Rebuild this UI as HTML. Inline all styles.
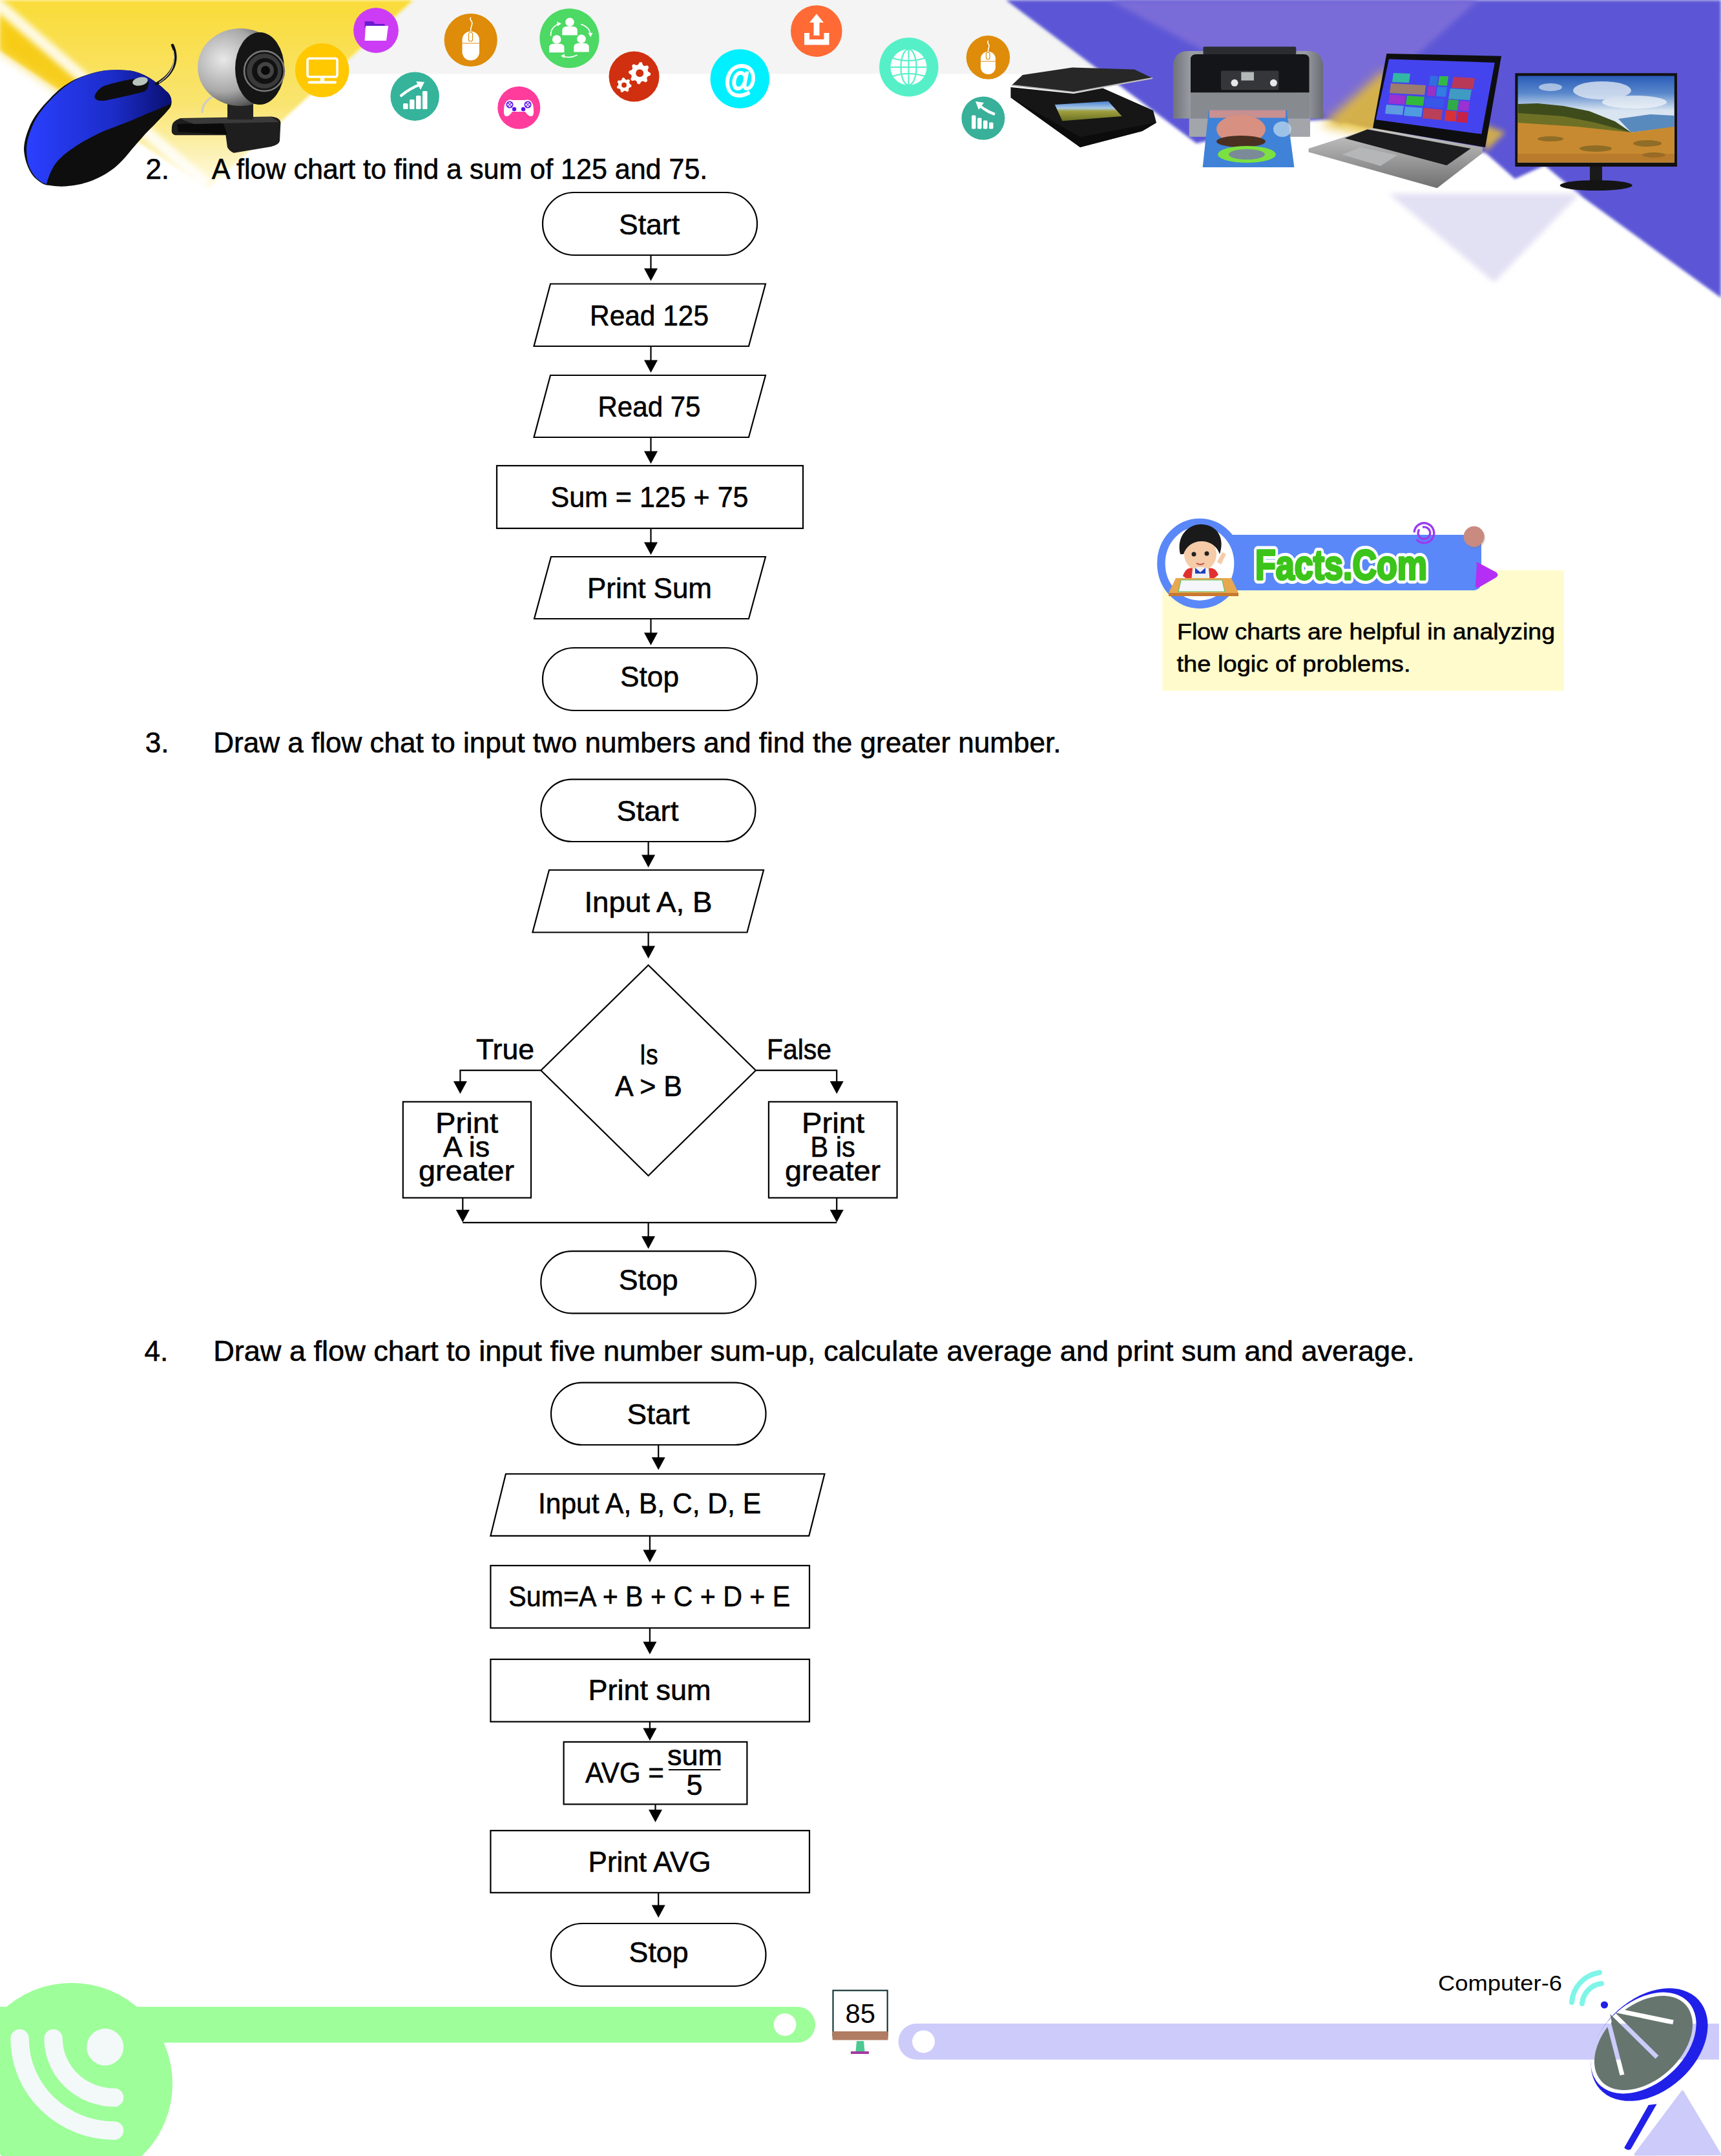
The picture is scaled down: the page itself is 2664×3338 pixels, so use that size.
<!DOCTYPE html>
<html><head><meta charset="utf-8"><title>Flow charts</title>
<style>
html,body{margin:0;padding:0;background:#fff;overflow:hidden;width:2664px;height:3338px;}
svg{display:block;}
text{font-family:"Liberation Sans",sans-serif;stroke:#000;stroke-width:0.6px;}
.s{fill:none;stroke:#000;stroke-width:2.2;}
.l{stroke:#000;stroke-width:2.2;}
</style></head>
<body>
<svg width="2664" height="3338" viewBox="0 0 2664 3338">
<defs>
<linearGradient id="yel" x1="0" y1="0" x2="0" y2="1">
 <stop offset="0" stop-color="#f9dc38"/><stop offset="0.55" stop-color="#f9e470"/><stop offset="1" stop-color="#fffbe6"/></linearGradient>
<linearGradient id="yel2" x1="0" y1="0" x2="1" y2="1">
 <stop offset="0" stop-color="#f6c200"/><stop offset="1" stop-color="#f8dc50" stop-opacity="0"/></linearGradient>
<filter id="bl4"><feGaussianBlur stdDeviation="4"/></filter>
<filter id="bl8"><feGaussianBlur stdDeviation="8"/></filter>
<filter id="bl2"><feGaussianBlur stdDeviation="2"/></filter>
<linearGradient id="lav" x1="0" y1="0" x2="0" y2="1">
 <stop offset="0" stop-color="#d8d4f4"/><stop offset="1" stop-color="#f4f3fb"/></linearGradient>
<linearGradient id="scr" x1="0" y1="0" x2="0" y2="1">
 <stop offset="0" stop-color="#3a68b0"/><stop offset="0.12" stop-color="#7a9ed0"/><stop offset="0.25" stop-color="#c4d4e8"/><stop offset="0.36" stop-color="#7a9a78"/><stop offset="0.46" stop-color="#45561f"/><stop offset="0.56" stop-color="#b08030"/><stop offset="0.75" stop-color="#c88834"/><stop offset="1" stop-color="#9a5e22"/></linearGradient>
<linearGradient id="silver" x1="0" y1="0" x2="0" y2="1">
 <stop offset="0" stop-color="#c8c8c8"/><stop offset="1" stop-color="#707070"/></linearGradient>
<linearGradient id="mouseb" x1="0" y1="0" x2="1" y2="0">
 <stop offset="0" stop-color="#2a40ff"/><stop offset="0.6" stop-color="#1c2cc8"/><stop offset="1" stop-color="#0a1070"/></linearGradient>
<radialGradient id="cam" cx="0.3" cy="0.4" r="0.7">
 <stop offset="0" stop-color="#e8e8e8"/><stop offset="0.6" stop-color="#a8a8a8"/><stop offset="1" stop-color="#404040"/></radialGradient>
<linearGradient id="prg" x1="0" y1="0" x2="1" y2="0">
 <stop offset="0" stop-color="#70747a"/><stop offset="0.12" stop-color="#9a9ea4"/><stop offset="0.5" stop-color="#8a8e94"/><stop offset="0.88" stop-color="#9a9ea4"/><stop offset="1" stop-color="#6a6e74"/></linearGradient>
<linearGradient id="scr2" x1="0" y1="0" x2="0" y2="1">
 <stop offset="0" stop-color="#4a80d0"/><stop offset="0.35" stop-color="#a8c8e8"/><stop offset="0.5" stop-color="#a0a040"/><stop offset="1" stop-color="#6a7020"/></linearGradient>
<linearGradient id="sky" x1="0" y1="0" x2="0" y2="1">
 <stop offset="0" stop-color="#2a5cb8"/><stop offset="0.2" stop-color="#5a88cc"/><stop offset="0.4" stop-color="#d8e4f0"/><stop offset="1" stop-color="#e8eef4"/></linearGradient>
</defs>
<polygon points="640,0 2664,0 2664,114.4 515,114.4" fill="#f3f4f3"/>
<polygon points="0,0 640,0 322,292 0,78" fill="url(#yel)" filter="url(#bl2)"/>
<polygon points="0,22 0,78 120,160 160,150" fill="#f6c400" opacity="0.7" filter="url(#bl8)"/>
<line x1="-5" y1="5" x2="320" y2="285" stroke="#fff" stroke-width="18" opacity="0.85" filter="url(#bl4)"/>
<polygon points="1557,0 2664,0 2664,461 2449.6,305 2391,256 2345,277 2300,237 2060,185 2000,188 1852,222" fill="#5c56d6" filter="url(#bl2)"/>
<polygon points="1717,0 2288,0 2075,192" fill="#7a6cd8" filter="url(#bl4)"/>
<polygon points="2045,195 2140,110 2215,150 2150,215" fill="#e8c030" opacity="0.85" filter="url(#bl8)"/><polygon points="2290,190 2330,205 2300,235" fill="#e8c030" opacity="0.8" filter="url(#bl4)"/>
<polygon points="2150,300 2445,300 2313,437" fill="#e2e0f3" filter="url(#bl4)"/>
<circle cx="498.6" cy="108.8" r="41.8" fill="#ffc800"/>
<rect x="476" y="90.5" width="46" height="28.5" rx="3" fill="none" stroke="#fff" stroke-width="3.6"/>
<rect x="496" y="119" width="6" height="8" fill="#fff"/><rect x="476.6" y="125.5" width="44.3" height="4" rx="2" fill="#fff"/>
<circle cx="582" cy="47" r="34.9" fill="#cc3cf5"/>
<path d="M564.5,33 h13 l3,4 h15 v6 h-31 z" fill="#6a1ad0"/>
<path d="M566,40 h35 l-3,23 h-33.5 z" fill="#fff"/>
<circle cx="642.2" cy="149.2" r="37.7" fill="#35b39b"/>
<rect x="624" y="160" width="7.5" height="9" rx="1.5" fill="#fff"/>
<rect x="634" y="154" width="7.5" height="15" rx="1.5" fill="#fff"/>
<rect x="644" y="148" width="7.5" height="21" rx="1.5" fill="#fff"/>
<rect x="654" y="141" width="7.5" height="28" rx="1.5" fill="#fff"/>
<path d="M621,148 Q636,136 650,131" fill="none" stroke="#fff" stroke-width="4.2" stroke-linecap="round"/>
<polygon points="644,126 657,127 651,139" fill="#fff"/>
<circle cx="728.7" cy="62" r="41.1" fill="#de8c0a"/>
<rect x="715.5" y="48.5" width="26.5" height="45" rx="13" fill="#fff"/>
<path d="M715.5,67 h26.5" stroke="#de8c0a" stroke-width="1"/><rect x="725.5" y="50" width="6" height="14" rx="3" fill="none" stroke="#de8c0a" stroke-width="1.2"/>
<path d="M728.5,48 C728,40 733,38 730,33 C727,30 728,28 729,27" fill="none" stroke="#fff" stroke-width="1.6"/>
<circle cx="803.3" cy="166.7" r="33" fill="#ff3c9c"/>
<path d="M785,156 Q789,153 793,155 L813,155 Q817,153 821,156 Q826,160 826,170 Q827,181 821,180 Q817,179 813,173 L793,173 Q789,179 785,180 Q779,181 780,170 Q780,160 785,156 Z" fill="#fff"/>
<circle cx="789" cy="162" r="4.6" fill="none" stroke="#5a10f0" stroke-width="1.8"/><circle cx="817" cy="162" r="4.6" fill="none" stroke="#5a10f0" stroke-width="1.8"/><path d="M786,159 l6,6 M792,159 l-6,6 M814,159 l6,6 M820,159 l-6,6" stroke="#5a10f0" stroke-width="1.2"/>
<circle cx="796" cy="169" r="3.2" fill="#5a10f0"/><circle cx="810" cy="169" r="3.2" fill="#5a10f0"/>
<circle cx="881.4" cy="59.3" r="46" fill="#4cd964"/>
<circle cx="882" cy="34.3" r="6.8" fill="#fff"/><path d="M870.3,54.599999999999994 v-8 c0,-4 4,-5.5 7,-5.5 h9.4 c3,0 7,1.5 7,5.5 v8 z" fill="#fff"/>
<circle cx="861.7" cy="61" r="6.8" fill="#fff"/><path d="M850.0,81.3 v-8 c0,-4 4,-5.5 7,-5.5 h9.4 c3,0 7,1.5 7,5.5 v8 z" fill="#fff"/>
<circle cx="900" cy="60.2" r="6.8" fill="#fff"/><path d="M888.3,80.5 v-8 c0,-4 4,-5.5 7,-5.5 h9.4 c3,0 7,1.5 7,5.5 v8 z" fill="#fff"/>
<path d="M852.6,55.5 Q852,42 865,37" fill="none" stroke="#fff" stroke-width="1.8"/><polygon points="862,33.5 869,36.5 863,40.5" fill="#fff"/>
<path d="M899,37.5 Q912,41 914,53" fill="none" stroke="#fff" stroke-width="1.8"/><polygon points="910.5,51 917.5,51 914,57.5" fill="#fff"/>
<path d="M893.4,85.3 Q882,91 872,87" fill="none" stroke="#fff" stroke-width="1.8"/><polygon points="874,83.5 868,86.5 874,90" fill="#fff"/>
<circle cx="981.5" cy="118.5" r="39" fill="#d03010"/>
<polygon points="1007.2,113.3 1006.9,116.6 1002.5,118.4 1001.2,120.7 1002.2,125.3 999.6,127.4 995.3,125.6 992.8,126.3 990.2,130.3 986.9,130.0 985.1,125.6 982.8,124.3 978.2,125.3 976.1,122.7 977.9,118.4 977.2,115.9 973.2,113.3 973.5,110.0 977.9,108.2 979.2,105.9 978.2,101.3 980.8,99.2 985.1,101.0 987.6,100.3 990.2,96.3 993.5,96.6 995.3,101.0 997.6,102.3 1002.2,101.3 1004.3,103.9 1002.5,108.2 1003.2,110.7" fill="#fff"/><circle cx="990.2" cy="113.3" r="6" fill="#d03010"/>
<polygon points="977.5,131.8 977.2,134.4 974.1,135.7 973.0,137.4 973.2,140.8 971.0,142.2 968.0,140.5 966.0,140.8 963.4,143.0 961.0,142.2 960.4,138.8 959.0,137.4 955.6,136.8 954.8,134.4 957.0,131.8 957.3,129.8 955.6,126.8 957.0,124.6 960.4,124.8 962.1,123.7 963.4,120.6 966.0,120.3 968.0,123.1 969.9,123.7 973.2,122.8 975.0,124.6 974.1,127.9 974.7,129.8" fill="#fff"/><circle cx="966" cy="131.8" r="4" fill="#d03010"/>
<circle cx="1145.3" cy="122" r="45.7" fill="#00f0ff"/>
<text x="1121" y="141" font-size="58" font-weight="bold" style="fill:#fff;stroke:#fff;stroke-width:2px" textLength="50" lengthAdjust="spacingAndGlyphs">@</text>
<circle cx="1263.8" cy="48.1" r="39.8" fill="#ff6a35"/>
<path d="M1245,51 v18.5 h38.5 v-18.5 h-8 v10 h-22.5 v-10 z" fill="#fff"/>
<polygon points="1264,21.5 1275,35 1268.5,35 1268.5,55 1259.5,55 1259.5,35 1253,35" fill="#fff"/>
<circle cx="1406.8" cy="103.9" r="45.7" fill="#55f0c8"/>
<circle cx="1406.5" cy="104" r="28" fill="#fff"/>
<g fill="none" stroke="#55f0c8" stroke-width="2.2"><ellipse cx="1406.5" cy="104" rx="12" ry="28"/><line x1="1406.5" y1="76" x2="1406.5" y2="132"/><line x1="1378.5" y1="104" x2="1434.5" y2="104"/><path d="M1382,90 Q1406.5,98 1431,90"/><path d="M1382,118 Q1406.5,110 1431,118"/></g>
<circle cx="1529.5" cy="88.9" r="33.8" fill="#de8c0a"/>
<rect x="1518" y="80" width="23" height="35" rx="11" fill="#fff"/>
<path d="M1518,95 h23" stroke="#de8c0a" stroke-width="1"/><rect x="1526.5" y="81" width="5.5" height="11" rx="2.7" fill="none" stroke="#de8c0a" stroke-width="1.2"/>
<path d="M1529.5,80 C1529,74 1533,72 1530,68 C1528,66 1529,64 1530,63" fill="none" stroke="#fff" stroke-width="1.6"/>
<circle cx="1521.9" cy="183" r="33.5" fill="#38b09a"/>
<rect x="1504" y="178.5" width="6.5" height="21" rx="1.5" fill="#fff"/>
<rect x="1513" y="182.5" width="6.5" height="17" rx="1.5" fill="#fff"/>
<rect x="1522" y="186.5" width="6.5" height="13" rx="1.5" fill="#fff"/>
<rect x="1531" y="189.5" width="6.5" height="10" rx="1.5" fill="#fff"/>
<path d="M1540,177 Q1526,172 1516,163" fill="none" stroke="#fff" stroke-width="4.2" stroke-linecap="butt"/>
<polygon points="1510,157 1523,159 1515,170" fill="#fff"/>
<path d="M37,232 C38,248 45,268 56,277 C64,284 70,287 77,287 C88,289 100,289 105,288 C120,287 134,283 144,279 C158,273 168,267 177,260 C188,251 197,240 205,230 C215,219 222,210 232,200 C243,189 255,177 263,167 C266,162 266,157 265,153 C263,146 260,143 256,140 C248,132 240,126 232,121 C220,114 210,110 198,109 C185,108 175,108 163,109 C147,111 130,117 116,123 C100,131 88,141 77,153 C63,167 53,180 47,193 C41,207 37,220 37,232 Z" fill="#0e0e0e"/>
<path d="M41,232 C41,220 45,207 51,193 C57,180 66,167 80,153 C92,141 103,131 118,123 C132,117 148,111 164,109 C175,108 185,108 198,109 C210,110 220,114 232,121 C240,126 248,132 256,140 C260,143 263,146 265,153 L265,160 C250,167 235,173 221,179 C200,188 182,195 163,202 C145,210 126,220 112,230 C100,238 90,247 84,256 C78,266 74,276 72,285 C60,282 49,270 44,255 C42,248 41,240 41,232 Z" fill="url(#mouseb)"/>
<path d="M146.4,148.7 C150,140 156,135 162.7,132.5 C180,127 205,121 223,120.9 C229,122 231,126 230,130 C229,136 227,140 223,141.8 C205,147 180,152 162.7,155.7 C154,157 146,155 146.4,148.7 Z" fill="#0e0e0e"/>
<ellipse cx="217" cy="126" rx="12" ry="6.5" fill="#b8c4bc" transform="rotate(-12 217 126)"/>
<path d="M242,130 C252,124 262,117 268,104 C273,93 272,80 267,70" fill="none" stroke="#111" stroke-width="4.5" stroke-linecap="round"/>
<path d="M246,128 C255,122 263,114 267,104 C270,95 270,85 268,78" fill="none" stroke="#ddd" stroke-width="1.2"/>
<path d="M266,196 Q266,188 279,183 L420,180.4 Q434,182 434.4,190 L433,218 Q432,224 420,227 L362,236.7 Q355,234 352,228 L349.4,209.2 L271,209.2 Q265.7,208 265.7,203 Z" fill="#1e1e1e"/>
<path d="M274,192 L345,190 L352,208 L276,204 Z" fill="#0a0a0a"/><path d="M279,184 L420,181 L432,189 L300,192 Z" fill="#3a3a3a"/>
<rect x="352" y="160" width="40" height="25" fill="#222"/>
<path d="M313,175 C312,158 330,145 350,142" fill="none" stroke="#ccc" stroke-width="3"/>
<ellipse cx="372" cy="104" rx="66" ry="60" fill="url(#cam)"/>
<ellipse cx="402" cy="106" rx="38" ry="56" fill="#151515"/>
<circle cx="409" cy="110" r="31" fill="none" stroke="#7a7a7a" stroke-width="2.5"/><circle cx="409" cy="110" r="27" fill="#3a3a3a"/><circle cx="410" cy="110" r="20" fill="#111"/><circle cx="411" cy="109" r="13" fill="#444"/><circle cx="411" cy="109" r="7" fill="#0a0a0a"/>
<polygon points="1564.5,135 1662,145 1707,136.5 1785,171 1790,190 1768,203 1672,228 1564.5,151" fill="#161616"/>
<polygon points="1564.5,151 1672,228 1768,203 1790,190 1672,212" fill="#0c0c0c"/>
<polygon points="1632.8,161.9 1715.6,156.8 1736.7,180 1644.4,187.3" fill="url(#scr2)"/>
<polygon points="1566,132 1583,116 1660,104.5 1756,107.4 1784,121 1662,143" fill="#272727"/>
<polyline points="1566,132 1662,143 1784,121" fill="none" stroke="#c0c0c0" stroke-width="2.2"/>
<path d="M1816,100 Q1818,79 1840,79 H2024 Q2046,79 2048,100 V183.5 H1816 Z" fill="url(#prg)"/>
<rect x="1862.5" y="72.3" width="143.8" height="12" rx="2" fill="#2a2c30"/>
<path d="M1843,92 Q1843,84 1852,84 H2018 Q2026.6,84 2026.6,92 V143.5 H1843 Z" fill="#141518"/>
<rect x="1890" y="109.4" width="89.4" height="29.8" rx="2" fill="#34363a"/>
<rect x="1921.3" y="111.6" width="19.7" height="13" fill="#b4b8b8"/>
<circle cx="1911" cy="128.3" r="5.5" fill="#e8e8e8"/><circle cx="1971.4" cy="128.3" r="5.5" fill="#e8e8e8"/>
<rect x="1843" y="143.5" width="183.6" height="40" fill="#878b90"/>
<rect x="1840.7" y="183.5" width="187.3" height="28.3" fill="#a2a6aa"/>
<polygon points="1871,170.4 1991.7,170.4 2003.4,259 1861.7,259" fill="#3f82d8"/>
<rect x="1872" y="170.4" width="118" height="12" fill="#c89090"/>
<ellipse cx="1921" cy="200" rx="38" ry="22" fill="#d89080"/>
<ellipse cx="1921" cy="219" rx="38" ry="9" fill="#4a3020"/>
<ellipse cx="1930" cy="239" rx="45" ry="13" fill="#7ce040"/>
<ellipse cx="1930" cy="239" rx="28" ry="8" fill="#7a8a98"/>
<ellipse cx="1985" cy="200" rx="14" ry="12" fill="#c8dcf0" opacity="0.7"/>
<polygon points="2025.6,230 2124,198.3 2295.2,228 2294.3,237.4 2224.5,291.3 2025.6,235.5" fill="url(#silver)"/>
<polygon points="2081.4,214 2116.7,200.2 2276.6,230 2239.4,256" fill="#1c1c1e"/>
<polygon points="2077.6,239.2 2105.5,228 2163.2,240 2137,256.9" fill="#b4b6b8"/>
<polygon points="2146.4,83 2324,86.7 2299,228 2125,198.3" fill="#0e0e10"/>
<polygon points="2150,91.4 2313.8,97 2293.3,207.6 2129.7,185.3" fill="#4444ee"/>
<g opacity="0.95"><polygon points="2157,113 2183,114 2181,128 2155,127" fill="#30c0a0"/><polygon points="2214,117 2226,118 2224,133 2212,132" fill="#3070e0"/><polygon points="2228,118 2242,118 2240,133 2226,132" fill="#30c040"/><polygon points="2250,119 2283,121 2280,138 2247,136" fill="#c03850"/><polygon points="2153,129 2207,132 2205,147 2151,144" fill="#a08068"/><polygon points="2211,133 2223,134 2221,149 2209,148" fill="#a030c0"/><polygon points="2225,134 2240,135 2238,150 2223,149" fill="#3080e0"/><polygon points="2245,137 2278,139 2275,155 2242,153" fill="#40a0c0"/><polygon points="2151,146 2176,148 2174,162 2149,160" fill="#a030d0"/><polygon points="2178,148 2205,150 2203,164 2176,162" fill="#30c030"/><polygon points="2207,151 2236,153 2234,167 2205,165" fill="#3858e8"/><polygon points="2242,154 2258,155 2256,171 2240,170" fill="#30b040"/><polygon points="2259,156 2275,157 2273,172 2257,171" fill="#a030d0"/><polygon points="2146,162 2173,164 2171,178 2144,176" fill="#60a0e0"/><polygon points="2175,165 2202,167 2200,181 2173,179" fill="#50a0e0"/><polygon points="2204,167 2233,170 2231,186 2202,183" fill="#c04050"/><polygon points="2238,171 2255,172 2253,188 2236,187" fill="#e03030"/><polygon points="2256,173 2273,174 2271,190 2254,189" fill="#d02040"/></g>
<rect x="2461" y="256" width="19" height="26" fill="#1a1a1a"/>
<ellipse cx="2470.7" cy="287" rx="56" ry="8" fill="#141414"/>
<rect x="2345.3" y="113.3" width="250.7" height="144.7" fill="#111"/>
<rect x="2349.5" y="117.5" width="242.3" height="134" fill="url(#sky)"/>
<g opacity="0.75"><ellipse cx="2480" cy="140" rx="45" ry="14" fill="#e8eef6"/><ellipse cx="2530" cy="158" rx="50" ry="10" fill="#f0f4f8"/><ellipse cx="2400" cy="135" rx="18" ry="6" fill="#c8d8ec"/></g>
<polygon points="2349.5,161 2380,160 2420,164 2460,172 2500,188 2525,205 2349.5,205" fill="#3e4c1c"/>
<polygon points="2349.5,175 2420,180 2470,190 2525,205 2349.5,205" fill="#7a7a28" opacity="0.8"/>
<polygon points="2505,184 2555,177 2591.8,179 2591.8,197 2525,205" fill="#4a80b8" opacity="0.9"/>
<polygon points="2349.5,190 2440,196 2525,205 2591.8,196 2591.8,251.5 2349.5,251.5" fill="#c88a30"/>
<g fill="#6a5a20" opacity="0.6"><ellipse cx="2400" cy="215" rx="20" ry="4"/><ellipse cx="2470" cy="230" rx="25" ry="5"/><ellipse cx="2550" cy="222" rx="22" ry="5"/><ellipse cx="2560" cy="240" rx="18" ry="4"/></g>
<rect x="2349.5" y="238" width="242.3" height="13.5" fill="#a86a26" opacity="0.5"/>
<rect x="840" y="298" width="332" height="97" rx="48.5" ry="48.5" class="s"/>
<line x1="1007.5" y1="395" x2="1007.5" y2="416.5" class="l"/><polygon points="997.0,415.5 1018.0,415.5 1007.5,435" fill="#000"/>
<polygon points="852,439.5 1185,439.5 1159,536 826.5,536" class="s"/>
<line x1="1007.5" y1="536" x2="1007.5" y2="558.5" class="l"/><polygon points="997.0,557.5 1018.0,557.5 1007.5,577" fill="#000"/>
<polygon points="852,581 1185,581 1159,677 826.5,677" class="s"/>
<line x1="1007.5" y1="677" x2="1007.5" y2="699.5" class="l"/><polygon points="997.0,698.5 1018.0,698.5 1007.5,718" fill="#000"/>
<rect x="769" y="721" width="474" height="97" class="s"/>
<line x1="1007.5" y1="818" x2="1007.5" y2="840.5" class="l"/><polygon points="997.0,839.5 1018.0,839.5 1007.5,859" fill="#000"/>
<polygon points="853,862 1185,862 1159,958 827,958" class="s"/>
<line x1="1007.5" y1="958" x2="1007.5" y2="980.5" class="l"/><polygon points="997.0,979.5 1018.0,979.5 1007.5,999" fill="#000"/>
<rect x="840" y="1003" width="332" height="97" rx="48.5" ry="48.5" class="s"/>
<text x="958" y="362.8" font-size="44" textLength="94" lengthAdjust="spacingAndGlyphs">Start</text>
<text x="913" y="504.3" font-size="44" textLength="184" lengthAdjust="spacingAndGlyphs">Read 125</text>
<text x="925.5" y="644.6" font-size="44" textLength="159" lengthAdjust="spacingAndGlyphs">Read 75</text>
<text x="852.5" y="785.1" font-size="44" textLength="306" lengthAdjust="spacingAndGlyphs">Sum = 125 + 75</text>
<text x="909" y="926.3" font-size="44" textLength="193" lengthAdjust="spacingAndGlyphs">Print Sum</text>
<text x="960" y="1062.8" font-size="44" textLength="91" lengthAdjust="spacingAndGlyphs">Stop</text>
<rect x="837.3" y="1206.7" width="332.10000000000014" height="96.29999999999995" rx="48.14999999999998" ry="48.14999999999998" class="s"/>
<line x1="1003.6" y1="1303" x2="1003.6" y2="1324.5" class="l"/><polygon points="993.1,1323.5 1014.1,1323.5 1003.6,1343" fill="#000"/>
<polygon points="850,1347 1182,1347 1156.5,1443.5 824.4,1443.5" class="s"/>
<line x1="1003.6" y1="1443.5" x2="1003.6" y2="1465.5" class="l"/><polygon points="993.1,1464.5 1014.1,1464.5 1003.6,1484" fill="#000"/>
<polygon points="1003.6,1494.3 1169.9,1657.2 1003.6,1820.2 837.3,1657.2" class="s"/>
<polyline points="837.3,1657.2 712.4,1657.2 712.4,1676" class="l" fill="none"/>
<polygon points="701.9,1674 722.9,1674 712.4,1693.5" fill="#000"/>
<polyline points="1169.9,1657.2 1295.2,1657.2 1295.2,1676" class="l" fill="none"/>
<polygon points="1284.7,1674 1305.7,1674 1295.2,1693.5" fill="#000"/>
<rect x="623.8" y="1705.8" width="198.20000000000005" height="148.70000000000005" class="s"/>
<rect x="1189.9" y="1705.8" width="198.69999999999982" height="148.70000000000005" class="s"/>
<line x1="716.3" y1="1854.5" x2="716.3" y2="1874.1" class="l"/><polygon points="705.8,1873.1 726.8,1873.1 716.3,1892.6" fill="#000"/>
<line x1="1295.2" y1="1854.5" x2="1295.2" y2="1874.1" class="l"/><polygon points="1284.7,1873.1 1305.7,1873.1 1295.2,1892.6" fill="#000"/>
<line x1="716.3" y1="1892.9" x2="1295.2" y2="1892.9" class="l"/>
<line x1="1003.6" y1="1892.9" x2="1003.6" y2="1914.9" class="l"/><polygon points="993.1,1913.9 1014.1,1913.9 1003.6,1933.4" fill="#000"/>
<rect x="837.3" y="1937.2" width="332.60000000000014" height="96.20000000000005" rx="48.10000000000002" ry="48.10000000000002" class="s"/>
<text x="954.4" y="1270.5" font-size="44" textLength="96" lengthAdjust="spacingAndGlyphs">Start</text>
<text x="904.4" y="1412" font-size="44" textLength="198" lengthAdjust="spacingAndGlyphs">Input A, B</text>
<text x="989.7" y="1647.7" font-size="44" textLength="29" lengthAdjust="spacingAndGlyphs">Is</text>
<text x="952" y="1696.8" font-size="44" textLength="104" lengthAdjust="spacingAndGlyphs">A &gt; B</text>
<text x="737" y="1640" font-size="44" textLength="90" lengthAdjust="spacingAndGlyphs">True</text>
<text x="1187" y="1640" font-size="44" textLength="100" lengthAdjust="spacingAndGlyphs">False</text>
<text x="674" y="1754" font-size="44" textLength="97" lengthAdjust="spacingAndGlyphs">Print</text>
<text x="686" y="1790.6" font-size="44" textLength="72" lengthAdjust="spacingAndGlyphs">A is</text>
<text x="648" y="1827.8" font-size="44" textLength="148" lengthAdjust="spacingAndGlyphs">greater</text>
<text x="1241" y="1754" font-size="44" textLength="97" lengthAdjust="spacingAndGlyphs">Print</text>
<text x="1254.6" y="1790.6" font-size="44" textLength="69" lengthAdjust="spacingAndGlyphs">B is</text>
<text x="1215" y="1827.8" font-size="44" textLength="148" lengthAdjust="spacingAndGlyphs">greater</text>
<text x="957.7" y="1997.2" font-size="44" textLength="92" lengthAdjust="spacingAndGlyphs">Stop</text>
<rect x="853" y="2140.6" width="332.5" height="96.40000000000009" rx="48.200000000000045" ry="48.200000000000045" class="s"/>
<line x1="1019.2" y1="2237" x2="1019.2" y2="2257.3" class="l"/><polygon points="1008.7,2256.3 1029.7,2256.3 1019.2,2275.8" fill="#000"/>
<polygon points="782.9,2282 1276.4,2282 1252.3,2377.8 759.4,2377.8" class="s"/>
<line x1="1005.9" y1="2377.8" x2="1005.9" y2="2400.4" class="l"/><polygon points="995.4,2399.4 1016.4,2399.4 1005.9,2418.9" fill="#000"/>
<rect x="759.4" y="2423.9" width="493.6" height="96.59999999999991" class="s"/>
<line x1="1005.9" y1="2520.5" x2="1005.9" y2="2542.7" class="l"/><polygon points="995.4,2541.7 1016.4,2541.7 1005.9,2561.2" fill="#000"/>
<rect x="759.4" y="2569" width="493.6" height="96.59999999999991" class="s"/>
<line x1="1005.9" y1="2665.6" x2="1005.9" y2="2676.6" class="l"/><polygon points="995.4,2675.6 1016.4,2675.6 1005.9,2695.1" fill="#000"/>
<rect x="872.6" y="2696.9" width="283.80000000000007" height="96.5" class="s"/>
<line x1="1014.5" y1="2793.4" x2="1014.5" y2="2802.7" class="l"/><polygon points="1004.0,2801.7 1025.0,2801.7 1014.5,2821.2" fill="#000"/>
<rect x="759.4" y="2834.2" width="493.6" height="96.10000000000036" class="s"/>
<line x1="1019.2" y1="2930.3" x2="1019.2" y2="2950.4" class="l"/><polygon points="1008.7,2949.4 1029.7,2949.4 1019.2,2968.9" fill="#000"/>
<rect x="852.9" y="2978" width="332.6" height="97" rx="48.5" ry="48.5" class="s"/>
<text x="970.6" y="2204.5" font-size="44" textLength="97" lengthAdjust="spacingAndGlyphs">Start</text>
<text x="833" y="2342.5" font-size="44" textLength="345" lengthAdjust="spacingAndGlyphs">Input A, B, C, D, E</text>
<text x="787.3" y="2487.3" font-size="44" textLength="436" lengthAdjust="spacingAndGlyphs">Sum=A + B + C + D + E</text>
<text x="910.6" y="2632" font-size="44" textLength="190" lengthAdjust="spacingAndGlyphs">Print sum</text>
<text x="905.9" y="2760" font-size="44" textLength="122" lengthAdjust="spacingAndGlyphs">AVG =</text>
<text x="1033" y="2733" font-size="44" textLength="85" lengthAdjust="spacingAndGlyphs">sum</text>
<line x1="1035" y1="2740" x2="1115.4" y2="2740" stroke="#000" stroke-width="2.2"/>
<text x="1062.6" y="2779" font-size="44" textLength="25" lengthAdjust="spacingAndGlyphs">5</text>
<text x="910.6" y="2898" font-size="44" textLength="190" lengthAdjust="spacingAndGlyphs">Print AVG</text>
<text x="973.6" y="3037.6" font-size="44" textLength="92" lengthAdjust="spacingAndGlyphs">Stop</text>
<text x="225.4" y="277" font-size="44">2.</text>
<text x="327.7" y="277" font-size="44" textLength="767.6" lengthAdjust="spacingAndGlyphs">A flow chart to find a sum of 125 and 75.</text>
<text x="224.7" y="1165.2" font-size="44">3.</text>
<text x="330.2" y="1165.2" font-size="44" textLength="1312.3" lengthAdjust="spacingAndGlyphs">Draw a flow chat to input two numbers and find the greater number.</text>
<text x="223.6" y="2107.4" font-size="44">4.</text>
<text x="330.2" y="2107.4" font-size="44" textLength="1859.6" lengthAdjust="spacingAndGlyphs">Draw a flow chart to input five number sum-up, calculate average and print sum and average.</text>
<rect x="1799.5" y="883" width="621.5" height="186.5" fill="#fffbcc"/>
<path d="M1872,828 H2281 A12,12 0 0 1 2293,840 V902 A12,12 0 0 1 2281,914 H1872 Z" fill="#5a88f8"/>
<ellipse cx="1857" cy="872.4" rx="59.6" ry="63.5" fill="#fff" stroke="#5a88f8" stroke-width="12.5"/>
<g><ellipse cx="1858" cy="858" rx="25" ry="26" fill="#f6cba8"/><path d="M1827,858 C1820,828 1842,810 1862,812 C1886,814 1896,835 1888,858 C1884,846 1874,838 1860,838 C1846,838 1836,846 1832,858 Z" fill="#1a1a1a"/><circle cx="1848" cy="858" r="3.5" fill="#222"/><circle cx="1868" cy="857" r="3.5" fill="#222"/><path d="M1852,872 Q1858,876 1864,872" fill="none" stroke="#c05050" stroke-width="2"/><path d="M1833,902 C1835,884 1846,878 1858,878 C1872,878 1884,884 1886,902 Z" fill="#f0f0f0"/><path d="M1831,892 C1834,882 1840,878 1846,880 L1844,900 Z" fill="#e03030"/><path d="M1886,890 C1883,882 1877,878 1871,880 L1873,900 Z" fill="#e03030"/><path d="M1850,879 L1858,886 L1866,879 L1866,888 L1850,888 Z" fill="#2040c0"/><polygon points="1884,870 1892,855 1898,858 1890,874" fill="#f6cba8"/><polygon points="1820,895 1906,895 1917,918 1809,918" fill="#e8a850"/><rect x="1809" y="918" width="108" height="5" fill="#c87830"/><polygon points="1828,898 1892,898 1896,916 1824,916" fill="#f4f6fa" stroke="#60c060" stroke-width="1.2"/></g>
<text x="1943" y="897" font-size="64" font-weight="bold" textLength="266" lengthAdjust="spacingAndGlyphs" style="fill:#fff;stroke:#fff;stroke-width:13px;stroke-linejoin:round">Facts.Com</text>
<text x="1943" y="897" font-size="64" font-weight="bold" textLength="266" lengthAdjust="spacingAndGlyphs" style="fill:#3cc41a;stroke:#3cc41a;stroke-width:3.5px;stroke-linejoin:round">Facts.Com</text>
<circle cx="2283" cy="833" r="16" fill="#7a6a60" opacity="0.25"/>
<circle cx="2281.6" cy="830.8" r="16" fill="#c98a80"/>
<path d="M2189.25,823.07 A15.3,15.3 0 1 1 2193.58,836.02" fill="none" stroke="#9a3cf0" stroke-width="3.4" stroke-linecap="round"/>
<path d="M2203.4,815.95 A9.3,9.3 0 1 1 2196.27,820.69" fill="none" stroke="#9a3cf0" stroke-width="3.4" stroke-linecap="round"/>
<path d="M2286,874 Q2283,870 2288,871 L2316,886 Q2321,890 2316,894 L2290,909 Q2283,912 2284,906 Z" fill="#b52ef5"/>
<text x="1822" y="990.2" font-size="35" textLength="585" lengthAdjust="spacingAndGlyphs">Flow charts are helpful in analyzing</text>
<text x="1821.5" y="1039.7" font-size="35" textLength="362" lengthAdjust="spacingAndGlyphs">the logic of problems.</text>
<circle cx="111" cy="3226" r="156" fill="#9efe9a"/>
<path d="M0,3107 H1234.3 A27.75,27.75 0 0 1 1234.3,3162.5 H0 Z" fill="#9efe9a"/>
<circle cx="1215" cy="3134.6" r="17.4" fill="#fff"/>
<circle cx="162.7" cy="3169.3" r="28.5" fill="#f3f9f9"/>
<path d="M82.6,3156 A94.4,91.4 0 0 0 177,3247.4" fill="none" stroke="#f3f9f9" stroke-width="28.5" stroke-linecap="round"/>
<path d="M30.5,3156 A146.5,142.7 0 0 0 177,3298.7" fill="none" stroke="#f3f9f9" stroke-width="28.5" stroke-linecap="round"/>
<path d="M2661,3133 H1418.35 A27.85,27.85 0 0 0 1418.35,3188.7 H2661 Z" fill="#cccbfa"/>
<circle cx="1429.6" cy="3160.9" r="17.5" fill="#fff"/>
<rect x="1289.5" y="3081.7" width="84.2" height="70" fill="#fff" stroke="#183838" stroke-width="2.2"/>
<rect x="1288.5" y="3145" width="86.2" height="13.5" rx="1.5" fill="#b07c62"/>
<polygon points="1326,3160 1337,3160 1338.5,3176 1324.5,3176" fill="#4cc992"/>
<rect x="1317" y="3176" width="28" height="4" fill="#a23aa0"/>
<text x="1308.5" y="3131.8" font-size="42" style="stroke:none" textLength="46.5" lengthAdjust="spacingAndGlyphs">85</text>
<text x="2226" y="3081.5" font-size="34" style="stroke:none" textLength="192" lengthAdjust="spacingAndGlyphs">Computer-6</text>
<polygon points="2531.6,3335.5 2604.4,3238.4 2662,3335" fill="#cccbfa" stroke="#cccbfa" stroke-width="4" stroke-linejoin="round"/>
<path d="M2551.9,3259 L2564.6,3257.6 L2524.2,3327.8 Q2518,3330 2514.3,3325 Z" fill="#2020e8"/>
<defs><mask id="mBlue" maskUnits="userSpaceOnUse" x="2300" y="2950" width="400" height="400"><rect x="2300" y="2950" width="400" height="400" fill="#fff"/><ellipse cx="2544" cy="3163" rx="94" ry="63" transform="rotate(-42 2544 3163)" fill="#000"/></mask><mask id="mGray" maskUnits="userSpaceOnUse" x="2300" y="2950" width="400" height="400"><rect x="2300" y="2950" width="400" height="400" fill="#fff"/><line x1="2489" y1="3110" x2="2590" y2="3131" stroke="#000" stroke-width="7"/><line x1="2489" y1="3110" x2="2565" y2="3185" stroke="#000" stroke-width="7"/><line x1="2486" y1="3115" x2="2511" y2="3212.5" stroke="#000" stroke-width="7"/></mask></defs>
<g mask="url(#mBlue)"><ellipse cx="2549" cy="3171" rx="103" ry="72" transform="rotate(-42 2544 3163)" fill="#2020e8"/></g>
<g mask="url(#mGray)"><ellipse cx="2544" cy="3163" rx="88" ry="58" transform="rotate(-42 2544 3163)" fill="#66766f"/><polygon points="2491,3112 2592,3131 2512,3214" fill="#66766f"/></g>
<circle cx="2483.5" cy="3104" r="5.6" fill="#2020e8"/>
<path d="M2433,3100 A50,50 0 0 1 2476,3054" fill="none" stroke="#7ff5e8" stroke-width="8" stroke-linecap="round"/>
<path d="M2449,3102 A34,34 0 0 1 2479,3071" fill="none" stroke="#7ff5e8" stroke-width="8" stroke-linecap="round"/>
</svg>
</body></html>
